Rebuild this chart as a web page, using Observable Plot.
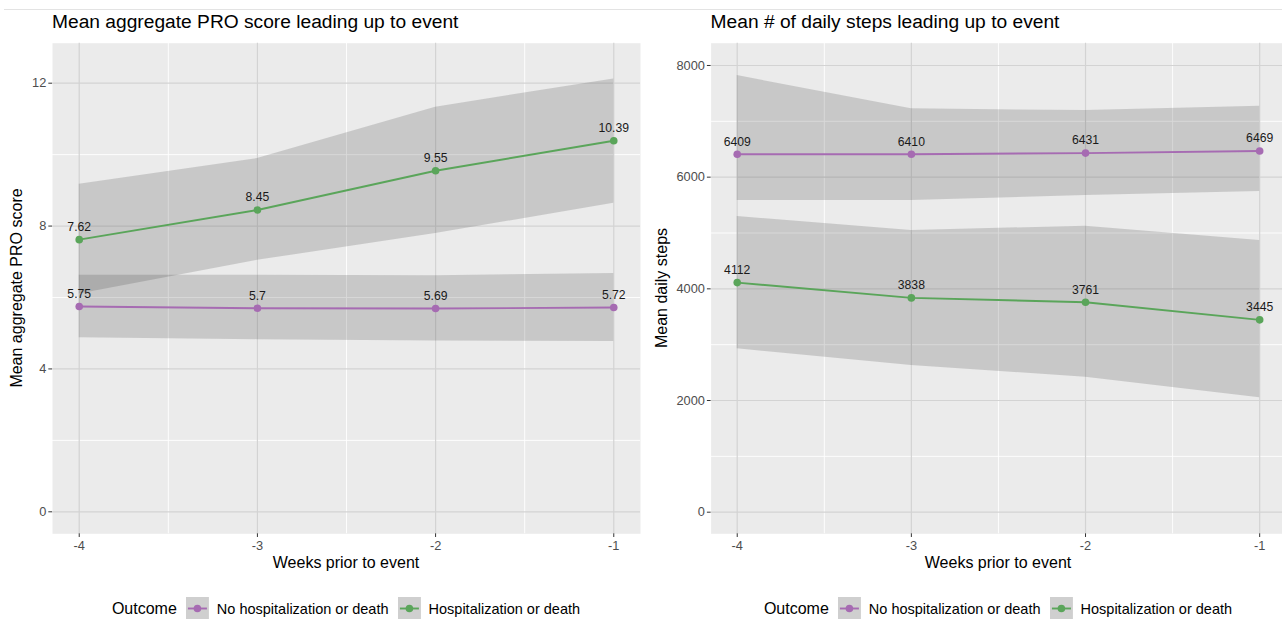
<!DOCTYPE html>
<html>
<head>
<meta charset="utf-8">
<script src="https://cdn.jsdelivr.net/npm/d3@7"></script>
<script src="https://cdn.jsdelivr.net/npm/@observablehq/plot@0.6"></script>
<style>
  html, body { margin: 0; padding: 0; background: #fff; }
  #root { position: relative; width: 1282px; height: 619px; overflow: hidden; font-family: "Liberation Sans", Arial, Helvetica, sans-serif; color: #000; }
  .panel { position: absolute; top: 0; }
  .panel svg { max-width: none !important; }
  .title { position: absolute; top: 12px; font-size: 19.2px; white-space: nowrap; line-height: 1; }
  .xtitle { position: absolute; top: 555px; font-size: 16px; white-space: nowrap; transform: translateX(-50%); line-height: 1; }
  .ytitle { position: absolute; font-size: 16px; white-space: nowrap; line-height: 1; transform: translate(-50%, -50%) rotate(-90deg); }
  .legend { position: absolute; top: 597px; display: flex; align-items: center; transform: translateX(-50%); white-space: nowrap; }
  .legend .lt { font-size: 16px; margin-right: 9px; }
  .legend .lab { font-size: 14.5px; margin-left: 8px; margin-right: 9px; }
  .legend svg { display: block; }
  .topline { position: absolute; left: 4px; right: 0; top: 9px; height: 1px; background: #e3e3e3; }
</style>
</head>
<body>
<div id="root">
  <div class="topline"></div>
</div>
<script>
// ---------- data ----------
const weeks = [-4, -3, -2, -1];
const outcomes = ["No hospitalization or death", "Hospitalization or death"];
const outcomeColors = ["#a66bb2", "#5aa55a"];

// Panel 1: mean aggregate PRO score
const proNoMean   = [5.75, 5.7, 5.69, 5.72];
const proNoLow    = [4.87, 4.82, 4.78, 4.77];
const proNoHigh   = [6.62, 6.62, 6.61, 6.67];
const proHospMean = [7.62, 8.45, 9.55, 10.39];
const proHospLow  = [6.1, 7.04, 7.79, 8.64];
const proHospHigh = [9.17, 9.89, 11.33, 12.12];
const proTicks = [0, 4, 8, 12];
const proMinor = [2, 6, 10];

// Panel 2: mean daily steps
const stepsNoMean   = [6409, 6410, 6431, 6469];
const stepsNoLow    = [5581, 5581, 5671, 5742];
const stepsNoHigh   = [7819, 7223, 7193, 7270];
const stepsHospMean = [4112, 3838, 3761, 3445];
const stepsHospLow  = [2925, 2627, 2417, 2048];
const stepsHospHigh = [5295, 5044, 5122, 4865];
const stepsTicks = [0, 2000, 4000, 6000, 8000];
const stepsMinor = [1000, 3000, 5000, 7000];

const weekMinor = [-3.5, -2.5, -1.5];

const titles = ["Mean aggregate PRO score leading up to event", "Mean # of daily steps leading up to event"];
const yTitles = ["Mean aggregate PRO score", "Mean daily steps"];
const xTitle = "Weeks prior to event";
const legendTitle = "Outcome";

// ---------- build rows ----------
function rows(noMean, noLow, noHigh, hMean, hLow, hHigh) {
  const out = [];
  weeks.forEach((w, i) => {
    out.push({week: w, outcome: outcomes[0], mean: noMean[i], low: noLow[i], high: noHigh[i]});
    out.push({week: w, outcome: outcomes[1], mean: hMean[i], low: hLow[i], high: hHigh[i]});
  });
  return out;
}
const proData = rows(proNoMean, proNoLow, proNoHigh, proHospMean, proHospLow, proHospHigh);
const stepsData = rows(stepsNoMean, stepsNoLow, stepsNoHigh, stepsHospMean, stepsHospLow, stepsHospHigh);

const H = 560, MT = 42.7, MB = H - 533.3;

function panel(data, yDomain, yTicks, yMinor, width, ml, mr) {
  return Plot.plot({
    width, height: H,
    marginLeft: ml, marginRight: mr, marginTop: MT, marginBottom: MB,
    style: {fontFamily: '"Liberation Sans", Arial, Helvetica, sans-serif', background: "transparent", overflow: "visible", maxWidth: "none"},
    x: {domain: [-4.15, -0.85], axis: null},
    y: {domain: yDomain, axis: null},
    color: {domain: outcomes, range: outcomeColors},
    marks: [
      Plot.frame({fill: "#ebebeb", stroke: null}),
      Plot.ruleY(yMinor, {stroke: "#ffffff", strokeWidth: 0.9}),
      Plot.ruleX(weekMinor, {stroke: "#ffffff", strokeWidth: 0.9}),
      Plot.ruleY(yTicks, {stroke: "#d3d3d3", strokeWidth: 1.2}),
      Plot.ruleX(weeks, {stroke: "#d3d3d3", strokeWidth: 1.2}),
      Plot.areaY(data, {x: "week", y1: "low", y2: "high", z: "outcome", fill: "#333333", fillOpacity: 0.19, curve: "linear"}),
      Plot.line(data, {x: "week", y: "mean", z: "outcome", stroke: "outcome", strokeWidth: 1.9}),
      Plot.dot(data, {x: "week", y: "mean", fill: "outcome", r: 3.8, stroke: null}),
      Plot.text(data, {x: "week", y: "mean", text: d => `${d.mean}`, dy: -12.5, fontSize: 12.2, fill: "#1a1a1a"}),
      Plot.axisY({ticks: yTicks, tickSize: 3.7, tickPadding: 2.5, fontSize: 12.8, color: "#4d4d4d", stroke: "#333333", label: null, tickFormat: d => `${d}`}),
      Plot.axisX({ticks: weeks, tickSize: 3.7, tickPadding: 3, fontSize: 12.8, color: "#4d4d4d", stroke: "#333333", label: null, tickFormat: d => `${d}`})
    ]
  });
}

const root = document.getElementById("root");

function place(el, left, width) {
  const wrap = document.createElement("div");
  wrap.className = "panel";
  wrap.style.left = left + "px";
  wrap.style.width = width + "px";
  wrap.appendChild(el);
  root.appendChild(wrap);
}

place(panel(proData, [-0.616, 13.12], proTicks, proMinor, 645, 52, 5), 0, 645);
place(panel(stepsData, [-387, 8399], stepsTicks, stepsMinor, 650, 70.6, 4.7), 640, 650);

function addText(cls, text, styles) {
  const d = document.createElement("div");
  d.className = cls;
  d.textContent = text;
  Object.assign(d.style, styles);
  root.appendChild(d);
  return d;
}

addText("title", titles[0], {left: "52px"});
addText("title", titles[1], {left: "710.6px"});
addText("xtitle", xTitle, {left: "346px"});
addText("xtitle", xTitle, {left: "998px"});
addText("ytitle", yTitles[0], {left: "17px", top: "288px"});
addText("ytitle", yTitles[1], {left: "662px", top: "288px"});

function keySvg(color) {
  const ns = "http://www.w3.org/2000/svg";
  const s = document.createElementNS(ns, "svg");
  s.setAttribute("width", 23); s.setAttribute("height", 23);
  const r = document.createElementNS(ns, "rect");
  r.setAttribute("width", 23); r.setAttribute("height", 23); r.setAttribute("fill", "#cfcfcf");
  const l = document.createElementNS(ns, "line");
  l.setAttribute("x1", 2); l.setAttribute("x2", 21); l.setAttribute("y1", 11.5); l.setAttribute("y2", 11.5);
  l.setAttribute("stroke", color); l.setAttribute("stroke-width", 1.9);
  const c = document.createElementNS(ns, "circle");
  c.setAttribute("cx", 11.5); c.setAttribute("cy", 11.5); c.setAttribute("r", 3.8); c.setAttribute("fill", color);
  s.append(r, l, c);
  return s;
}

function legend(center) {
  const d = document.createElement("div");
  d.className = "legend";
  d.style.left = center + "px";
  const t = document.createElement("span"); t.className = "lt"; t.textContent = legendTitle; d.appendChild(t);
  outcomes.forEach((o, i) => {
    d.appendChild(keySvg(outcomeColors[i]));
    const s = document.createElement("span"); s.className = "lab"; s.textContent = o;
    if (i === outcomes.length - 1) s.style.marginRight = "0px";
    d.appendChild(s);
  });
  root.appendChild(d);
}
legend(346);
legend(998);
</script>
</body>
</html>
